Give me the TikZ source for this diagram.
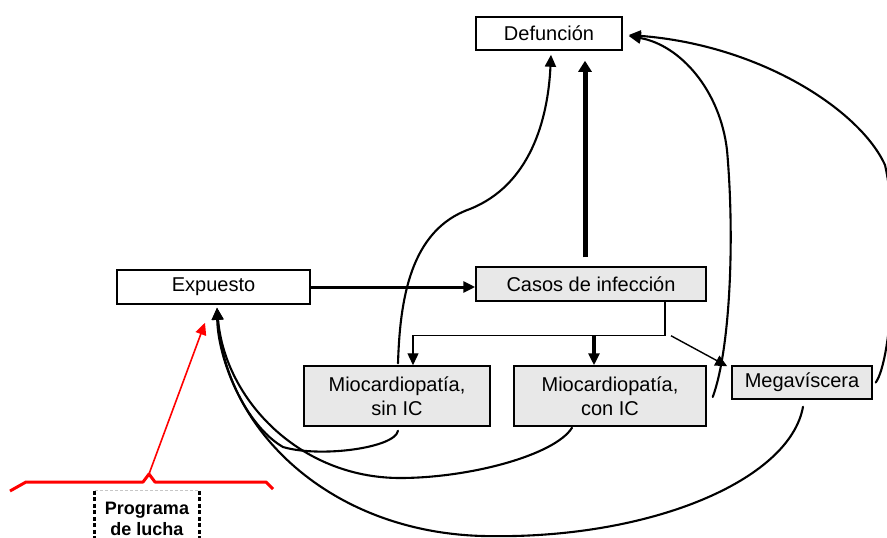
\documentclass[tikz,border=0pt]{standalone}
\usepackage{fontspec}
\setmainfont{Liberation Sans}
\usetikzlibrary{arrows.meta}
\begin{document}
\begin{tikzpicture}[x=1pt,y=-1pt,
  box/.style={draw, line width=1.5pt, inner sep=0pt, align=center, font=\fontsize{20}{24}\selectfont},
  wbox/.style={box, fill=white},
  gbox/.style={box, fill=black!9},
  arrowtip/.style={-{Triangle[length=12pt,width=11pt]}},
  crv/.style={arrowtip, line width=2.1pt, line cap=round, line join=round},
  thinln/.style={line width=1.4pt},
  redln/.style={draw=red, line width=1.6pt},
  progside/.style={line width=3pt, dash pattern=on 4pt off 2.5pt}
]
\useasboundingbox (0,0) rectangle (887,538);

% boxes
\node[wbox, minimum width=146pt, minimum height=33pt] (def) at (549,33.5) {Defunción};
\node[wbox, minimum width=193pt, minimum height=34pt] (exp) at (213.5,287) {Expuesto};
\node[gbox, minimum width=230pt, minimum height=34pt] (casos) at (591,284) {Casos de infección};
\node[gbox, minimum width=186pt, minimum height=60pt] (sin) at (397,396) {Miocardiopatía,\\sin IC};
\node[gbox, minimum width=192pt, minimum height=60pt] (con) at (610,396) {Miocardiopatía,\\con IC};
\node[gbox, minimum width=140pt, minimum height=33pt] (mega) at (802,382.5) {Megavíscera};

% straight connectors
\draw[arrowtip, line width=3pt] (exp.east) -- (exp.east -| casos.west);
\draw[-{Triangle[length=11pt,width=13pt]}, line width=5pt]
  ([xshift=-6pt,yshift=9pt]casos.north) -- ([xshift=36pt,yshift=-10pt]def.south);
\draw[thinln, arrowtip] ([xshift=74pt]casos.south) -- ++(0,34) coordinate (br)
  -| ([xshift=16pt]sin.north);
\coordinate (cb) at ([xshift=-16pt]con.north);
\draw[arrowtip, line width=4pt] (cb |- br) -- (cb);
\draw[thinln, arrowtip] ([xshift=6pt]br) -- ([xshift=-4pt,yshift=-1pt]mega.north west);

% curves to Defuncion
\draw[crv] ([xshift=1pt,yshift=2pt]sin.north) .. controls (400,300) and (410,230) .. (470,209)
  .. controls (530,185) and (548,120) .. ([xshift=2pt,yshift=-4pt]def.south);
\draw[crv] ([xshift=6pt,yshift=-1pt]con.east) .. controls (730,350) and (735,240) .. (727,150)
  .. controls (720,90) and (680,45) .. ([xshift=6pt,yshift=-2.5pt]def.east);
\draw[crv] ([xshift=3pt]mega.east) .. controls (892,360) and (900,230) .. (885,165)
  .. controls (860,110) and (760,45) .. ([xshift=6pt,yshift=-1.5pt]def.east);

% curves to Expuesto
\coordinate (expin) at ([xshift=3.5pt,yshift=-3pt]exp.south);
\draw[crv] ([xshift=1pt,yshift=-4pt]sin.south) .. controls (395,448) and (320,458) .. (283,447)
  .. controls (245,425) and (218,360) .. (expin);
\draw[crv] ([xshift=-38pt,yshift=-1pt]con.south) .. controls (555,455) and (470,478) .. (400,478)
  .. controls (300,478) and (225,400) .. (expin);
\draw[crv] ([xshift=1pt,yshift=-7pt]mega.south) .. controls (790,480) and (650,540) .. (483,536)
  .. controls (330,532) and (225,430) .. (expin);

% programa de lucha
\node[inner sep=0pt, minimum width=104pt, minimum height=56pt, align=center,
  font=\fontsize{18}{21}\bfseries] (prog) at (147,519) {Programa\\de lucha};
\draw[gray!45, line width=0.8pt, dash pattern=on 3pt off 2pt] (prog.north west) -- (prog.north east);
\draw[progside] (prog.north west) -- (prog.south west);
\draw[progside] (prog.north east) -- (prog.south east);

% red brace and arrow
\coordinate (bracetip) at (149,474);
\draw[red, line width=3pt, line join=round] (10,491) -- (26,482) -- (143,482) -- (bracetip)
  -- (155,482) -- (266,482) -- (273,489);
\draw[redln, -{Triangle[length=12pt,width=11pt]}, red] (bracetip) -- ([xshift=-8.5pt,yshift=-18pt]exp.south);
\end{tikzpicture}
\end{document}
